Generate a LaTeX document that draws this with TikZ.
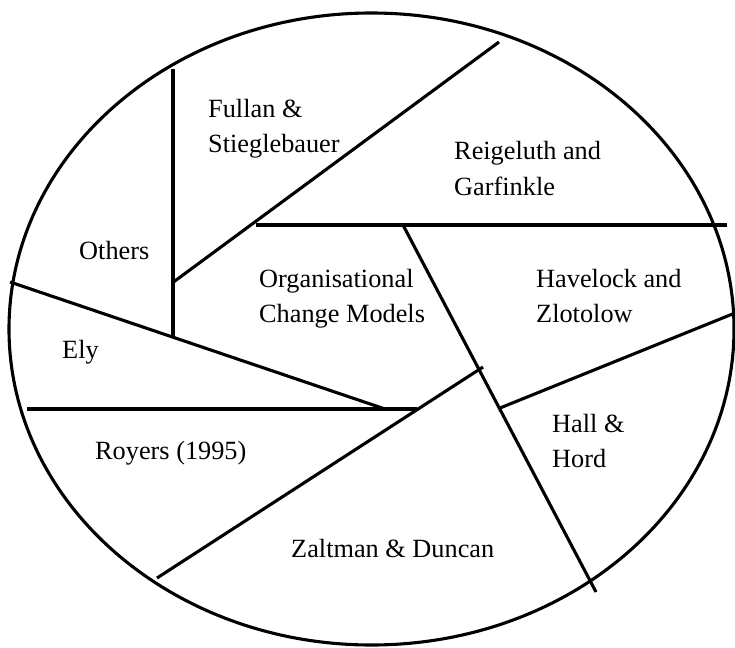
\documentclass[tikz,border=0pt]{standalone}
\usepackage{fontspec}
\setmainfont{Liberation Serif}
\begin{document}
\begin{tikzpicture}[x=1pt,y=-1pt,
  edge/.style={line width=3.1pt},
  lbl/.style={anchor=base west,inner sep=0pt,align=left,
    font=\fontsize{26.3}{35}\selectfont}]
\useasboundingbox (0,0) rectangle (735,647);
\draw[edge] (371.5,329) ellipse [x radius=362.5, y radius=316];
% coordinates
\coordinate (v1) at (173,69);   \coordinate (v2) at (173,336);
\coordinate (d1a) at (499,42);  \coordinate (d1b) at (173.5,282);
\coordinate (h1a) at (256,225); \coordinate (h1b) at (727,225);
\coordinate (d2a) at (403,225); \coordinate (d2b) at (596,592);
\coordinate (l1a) at (10,282);  \coordinate (l1b) at (385,409);
\coordinate (h2a) at (27,409);  \coordinate (h2b) at (417,409);
\coordinate (d3a) at (483,367); \coordinate (d3b) at (157,578);
\coordinate (l2a) at (735,313); \coordinate (l2b) at (500,408);
\draw[edge] (v1) -- (v2);
\draw[edge] (d1a) -- (d1b);
\draw[edge] (h1a) -- (h1b);
\draw[edge] (d2a) -- (d2b);
\draw[edge] (l1a) -- (l1b);
\draw[edge] (h2a) -- (h2b);
\draw[edge] (d3a) -- (d3b);
\draw[edge] (l2a) -- (l2b);
% labels
\node[lbl] (fullan) at (208,118) {Fullan \&};
\node[lbl] (fullan2) at (208,153) {Stieglebauer};
\node[lbl] (reig) at (454,160) {Reigeluth and};
\node[lbl] (reig2) at (454,195) {Garfinkle};
\node[lbl] (others) at (79,259) {Others};
\node[lbl] (org) at (259,287) {Organisational};
\node[lbl] (org2) at (259,322) {Change Models};
\node[lbl] (have) at (536,287) {Havelock and};
\node[lbl] (have2) at (536,322) {Zlotolow};
\node[lbl] (ely) at (62,358) {Ely};
\node[lbl] (roy) at (95,459) {Royers (1995)};
\node[lbl] (hall) at (552,432) {Hall \&};
\node[lbl] (hall2) at (552,467) {Hord};
\node[lbl] (zalt) at (291,557) {Zaltman \& Duncan};
\end{tikzpicture}
\end{document}
